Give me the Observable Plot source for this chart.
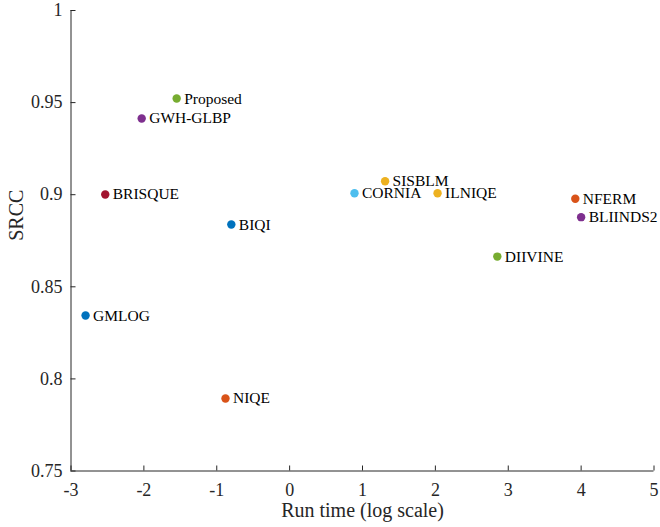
<!DOCTYPE html>
<html>
<head>
<meta charset="utf-8">
<script src="https://cdn.jsdelivr.net/npm/d3@7"></script>
<script src="https://cdn.jsdelivr.net/npm/@observablehq/plot@0.6"></script>
<style>
  html, body { margin: 0; padding: 0; background: #fff; }
  svg text { font-family: 'Liberation Serif', 'Times New Roman', serif !important; }
</style>
</head>
<body>
<div id="chart"></div>
<script>
const methods = ["Proposed", "GWH-GLBP", "BRISQUE", "BIQI", "GMLOG", "NIQE", "CORNIA", "SISBLM", "ILNIQE", "NFERM", "BLIINDS2", "DIIVINE"];
const runTimeLog = [-1.55, -2.03, -2.53, -0.80, -2.80, -0.88, 0.89, 1.31, 2.03, 3.92, 4.00, 2.85];
const srcc = [0.9522, 0.9414, 0.9001, 0.8838, 0.8344, 0.7894, 0.9008, 0.9073, 0.9008, 0.8978, 0.8878, 0.8664];
const colors = ["#77AC30", "#7E2F8E", "#A2142F", "#0072BD", "#0072BD", "#D95319", "#4DBEEE", "#EDB120", "#EDB120", "#D95319", "#7E2F8E", "#77AC30"];

const xTicks = [-3, -2, -1, 0, 1, 2, 3, 4, 5];
const yTicks = [0.75, 0.8, 0.85, 0.9, 0.95, 1];
const yTickLabels = ["0.75", "0.8", "0.85", "0.9", "0.95", "1"];
const xLabel = "Run time (log scale)";
const yLabel = "SRCC";

const data = methods.map((m, i) => ({name: m, x: runTimeLog[i], y: srcc[i], color: colors[i]}));

const axisColor = "#262626";
const font = "'Liberation Serif', 'Times New Roman', serif";

const chart = Plot.plot({
  width: 660,
  height: 527,
  marginLeft: 70.5,
  marginRight: 6.5,
  marginTop: 10,
  marginBottom: 56.5,
  style: {fontFamily: font, background: "#fff", overflow: "visible"},
  x: {domain: [-3, 5]},
  y: {domain: [0.75, 1]},
  marks: [
    Plot.ruleY([0.75], {stroke: axisColor, strokeWidth: 1}),
    Plot.ruleX([-3], {stroke: axisColor, strokeWidth: 1}),
    Plot.axisX(xTicks, {
      tickSize: -5,
      tickPadding: 17.5,
      tickFormat: d => String(d),
      fontSize: 18,
      fontFamily: font,
      stroke: axisColor,
      fill: axisColor,
      label: null
    }),
    Plot.axisY(yTicks, {
      tickSize: -5,
      tickPadding: 13.5,
      tickFormat: d => yTickLabels[yTicks.indexOf(d)],
      fontSize: 18,
      fontFamily: font,
      stroke: axisColor,
      fill: axisColor,
      label: null
    }),
    Plot.text([xLabel], {frameAnchor: "bottom", dy: 46, fontSize: 20, fontFamily: font, fill: axisColor, text: d => d}),
    Plot.text([yLabel], {frameAnchor: "left", dx: -54, rotate: -90, fontSize: 20, fontFamily: font, fill: axisColor, text: d => d}),
    Plot.dot(data, {x: "x", y: "y", r: 4.2, fill: d => d.color, stroke: null}),
    Plot.text(data, {x: "x", y: "y", text: "name", dx: 7.5, textAnchor: "start", fontSize: 15.5, fontFamily: font, fill: "#000"})
  ]
});
document.getElementById("chart").appendChild(chart);
</script>
</body>
</html>
